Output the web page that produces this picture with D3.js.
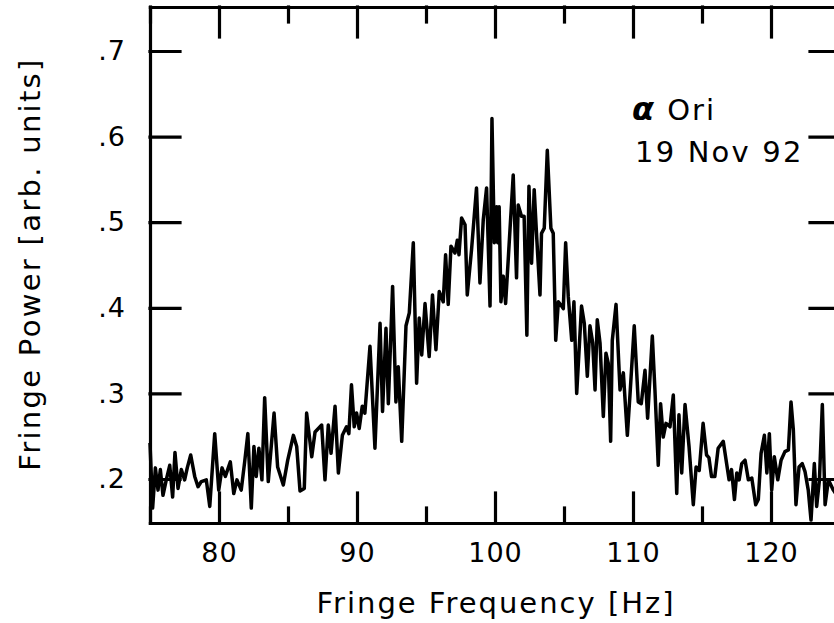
<!DOCTYPE html>
<html>
<head>
<meta charset="utf-8">
<script src="https://cdn.jsdelivr.net/npm/d3@7"></script>
<style>
  html, body { margin: 0; padding: 0; background: #fff; }
  svg { display: block; }
  text { font-family: "DejaVu Sans", sans-serif; fill: #000; }
</style>
</head>
<body>
<svg id="chart"></svg>
<script>
// fringe frequency in Hz (turning points)
const freq = [
  75.00, 75.19, 75.39, 75.58, 75.75, 75.94, 76.18, 76.43, 76.64, 76.81,
  77.03, 77.27, 77.51, 77.70, 77.95, 78.24, 78.48, 78.72, 79.08, 79.33,
  79.69, 79.98, 80.22, 80.46, 80.82, 81.07, 81.30, 81.61, 81.86, 82.09,
  82.34, 82.53, 82.70, 82.89, 83.11, 83.31, 83.57, 83.99, 84.25, 84.66,
  84.98, 85.39, 85.63, 85.87, 86.18, 86.35, 86.72, 86.96, 87.44, 87.68,
  87.92, 88.12, 88.41, 88.65, 88.94, 89.24, 89.41, 89.60, 89.80, 89.97,
  90.16, 90.38, 90.57, 90.94, 91.30, 91.67, 91.85, 92.10, 92.27, 92.58,
  92.82, 92.99, 93.24, 93.55, 93.79, 94.08, 94.32, 94.51, 94.69, 94.93,
  95.23, 95.47, 95.72, 95.96, 96.25, 96.42, 96.61, 96.81, 97.10, 97.27,
  97.39, 97.58, 97.83, 97.99, 98.30, 98.66, 98.91, 99.15, 99.39, 99.64,
  99.78, 99.95, 100.11, 100.20, 100.30, 100.43, 100.60, 100.77, 101.32, 101.56,
  101.68, 101.92, 102.11, 102.31, 102.46, 102.65, 102.84, 103.02, 103.26, 103.37,
  103.57, 103.79, 104.05, 104.22, 104.40, 104.59, 104.83, 104.95, 105.12, 105.31,
  105.56, 105.72, 105.92, 106.27, 106.47, 106.69, 106.88, 107.08, 107.25, 107.41,
  107.61, 107.85, 108.04, 108.21, 108.38, 108.50, 108.77, 109.06, 109.30, 109.59,
  109.78, 110.09, 110.38, 110.60, 110.87, 111.06, 111.40, 111.59, 111.83, 112.00,
  112.19, 112.39, 112.68, 112.92, 113.17, 113.33, 113.53, 113.77, 114.06, 114.37,
  114.57, 114.80, 115.08, 115.33, 115.50, 115.69, 115.93, 116.17, 116.54, 116.96,
  117.14, 117.35, 117.52, 117.69, 117.88, 118.12, 118.36, 118.61, 118.89, 119.08,
  119.28, 119.52, 119.70, 119.88, 120.05, 120.24, 120.49, 120.73, 121.01, 121.26,
  121.45, 121.62, 121.81, 122.03, 122.26, 122.46, 122.70, 122.90, 123.14, 123.31,
  123.51, 123.72, 123.92, 124.16, 124.52, 124.80, 125.00
];

// fringe power, arbitrary units
const power = [
  0.242, 0.166, 0.213, 0.187, 0.211, 0.181, 0.199, 0.216, 0.179, 0.231,
  0.189, 0.211, 0.199, 0.213, 0.228, 0.203, 0.191, 0.197, 0.199, 0.168,
  0.253, 0.187, 0.213, 0.203, 0.220, 0.183, 0.199, 0.187, 0.220, 0.253,
  0.166, 0.238, 0.203, 0.236, 0.199, 0.295, 0.197, 0.277, 0.214, 0.193,
  0.222, 0.251, 0.238, 0.186, 0.189, 0.277, 0.226, 0.255, 0.263, 0.199,
  0.263, 0.230, 0.285, 0.207, 0.251, 0.261, 0.253, 0.310, 0.261, 0.277,
  0.259, 0.285, 0.277, 0.355, 0.236, 0.382, 0.279, 0.376, 0.288, 0.425,
  0.290, 0.331, 0.244, 0.379, 0.394, 0.476, 0.312, 0.388, 0.345, 0.405,
  0.343, 0.415, 0.351, 0.419, 0.407, 0.462, 0.404, 0.472, 0.464, 0.479,
  0.462, 0.505, 0.497, 0.415, 0.468, 0.540, 0.429, 0.503, 0.540, 0.402,
  0.621, 0.476, 0.518, 0.476, 0.518, 0.407, 0.437, 0.405, 0.555, 0.435,
  0.520, 0.507, 0.507, 0.368, 0.542, 0.452, 0.538, 0.483, 0.415, 0.487,
  0.493, 0.584, 0.493, 0.487, 0.362, 0.407, 0.402, 0.399, 0.476, 0.413,
  0.362, 0.407, 0.300, 0.402, 0.382, 0.320, 0.379, 0.359, 0.304, 0.386,
  0.359, 0.273, 0.347, 0.335, 0.244, 0.362, 0.404, 0.304, 0.324, 0.251,
  0.298, 0.379, 0.290, 0.288, 0.327, 0.271, 0.367, 0.304, 0.216, 0.288,
  0.249, 0.265, 0.261, 0.298, 0.183, 0.275, 0.207, 0.287, 0.238, 0.170,
  0.214, 0.210, 0.265, 0.228, 0.225, 0.203, 0.203, 0.236, 0.244, 0.199,
  0.211, 0.176, 0.207, 0.199, 0.218, 0.222, 0.199, 0.201, 0.170, 0.176,
  0.230, 0.251, 0.207, 0.253, 0.187, 0.226, 0.199, 0.222, 0.232, 0.234,
  0.290, 0.257, 0.170, 0.214, 0.218, 0.209, 0.187, 0.152, 0.218, 0.168,
  0.199, 0.287, 0.170, 0.199, 0.187, 0.180, 0.190
];

const xMajorTicks = [80, 90, 100, 110, 120];
const xMinorTicks = [75, 85, 95, 105, 115, 125];
const yTicks = [0.2, 0.3, 0.4, 0.5, 0.6, 0.7];
const xDomain = [75, 125];
const yDomain = [0.1486, 0.7514];
const xTitle = "Fringe Frequency [Hz]";
const yTitle = "Fringe Power [arb. units]";
const starName = "Ori";
const obsDate = "19 Nov 92";

class FringePlot {
    margin = {
        top: 7, right: -6, bottom: 100, left: 150
    }

    constructor(svg, width = 690, height = 516) {
        this.svg = svg;
        this.width = width;
        this.height = height;
    }

    initialize() {
        this.svg = d3.select(this.svg)
            .attr("width", 834)
            .attr("height", 623);

        this.svg.append("rect")
            .attr("width", 834).attr("height", 623)
            .attr("fill", "#fff");

        this.container = this.svg.append("g")
            .attr("transform", `translate(${this.margin.left}, ${this.margin.top})`);

        this.x = d3.scaleLinear().domain(xDomain).range([0, this.width]);
        this.y = d3.scaleLinear().domain(yDomain).range([this.height, 0]);
    }

    styleAxis(g) {
        g.selectAll("path.domain, line")
            .attr("stroke", "#000")
            .attr("stroke-width", 3.2)
            .attr("stroke-linecap", "square");
        g.selectAll("text")
            .style("font-size", "27px")
            .style("letter-spacing", "1px")
            .attr("fill", "#000");
    }

    drawAxes() {
        const c = this.container;
        const fmt = d => d3.format(".1f")(d).replace(/^0/, "");

        // bottom, major with labels
        c.append("g")
            .attr("transform", `translate(0, ${this.height})`)
            .call(d3.axisBottom(this.x).tickValues(xMajorTicks)
                .tickSize(-30).tickSizeOuter(0).tickPadding(20))
            .call(g => this.styleAxis(g));
        // bottom, minor
        c.append("g")
            .attr("transform", `translate(0, ${this.height})`)
            .call(d3.axisBottom(this.x).tickValues(xMinorTicks)
                .tickSize(-15).tickSizeOuter(0).tickFormat(""))
            .call(g => this.styleAxis(g));

        // top
        c.append("g")
            .call(d3.axisTop(this.x).tickValues(xMajorTicks)
                .tickSize(-30).tickSizeOuter(0).tickFormat(""))
            .call(g => this.styleAxis(g));
        c.append("g")
            .call(d3.axisTop(this.x).tickValues(xMinorTicks)
                .tickSize(-15).tickSizeOuter(0).tickFormat(""))
            .call(g => this.styleAxis(g));

        // left with labels
        c.append("g")
            .call(d3.axisLeft(this.y).tickValues(yTicks)
                .tickSize(-30).tickSizeOuter(0).tickPadding(24).tickFormat(fmt))
            .call(g => this.styleAxis(g));

        // right
        c.append("g")
            .attr("transform", `translate(${this.width}, 0)`)
            .call(d3.axisRight(this.y).tickValues(yTicks)
                .tickSize(-30).tickSizeOuter(0).tickFormat(""))
            .call(g => this.styleAxis(g));
    }

    update() {
        const data = freq.map((f, i) => [f, power[i]]);

        this.container.append("path")
            .datum(data)
            .attr("d", d3.line().x(d => this.x(d[0])).y(d => this.y(d[1])))
            .attr("fill", "none")
            .attr("stroke", "#000")
            .attr("stroke-width", 3.5)
            .attr("stroke-linejoin", "round");

        this.drawAxes();

        // axis titles
        this.svg.append("text")
            .attr("x", 496).attr("y", 613)
            .attr("text-anchor", "middle")
            .style("font-size", "29px")
            .style("letter-spacing", "2px")
            .text(xTitle);

        this.svg.append("text")
            .attr("transform", "translate(40, 264) rotate(-90)")
            .attr("text-anchor", "middle")
            .style("font-size", "29px")
            .style("letter-spacing", "2.3px")
            .text(yTitle);

        // star label
        const lab = this.svg.append("text")
            .attr("x", 632).attr("y", 120)
            .style("font-size", "29px")
            .style("letter-spacing", "2px");
        lab.append("tspan")
            .style("font-weight", "bold")
            .style("font-style", "italic")
            .style("font-size", "32px")
            .text("\u03b1");
        lab.append("tspan").text(" " + starName);

        this.svg.append("text")
            .attr("x", 635).attr("y", 162)
            .style("font-size", "29px")
            .style("letter-spacing", "2.2px")
            .text(obsDate);
    }
}

const plot = new FringePlot(document.getElementById("chart"));
plot.initialize();
plot.update();
</script>
</body>
</html>
